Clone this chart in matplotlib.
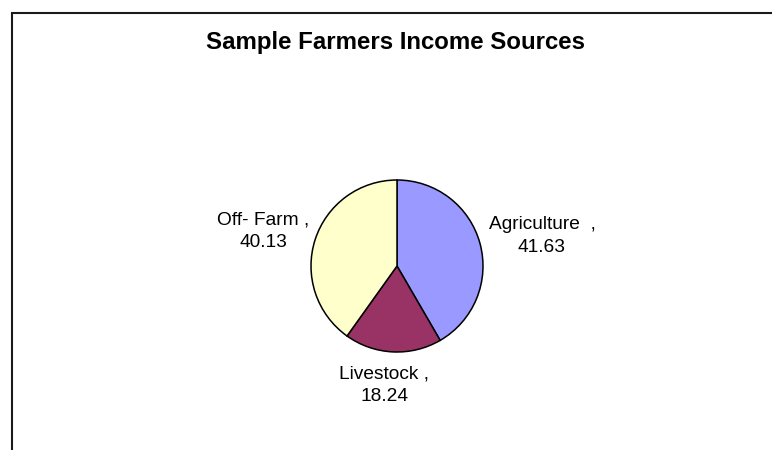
import matplotlib
matplotlib.use("Agg")
import matplotlib.pyplot as plt
from matplotlib.lines import Line2D

# Income shares (%) of the sampled farmers
sources = ["Agriculture ", "Livestock", "Off- Farm"]
shares = [41.63, 18.24, 40.13]
colors = ["#9999FF", "#993366", "#FFFFCC"]

# label anchor points (pixel layout, y measured from the top)
label_pos = [(542, 236), (384, 385), (263, 231)]

W, H = 772, 450
fig = plt.figure(figsize=(W / 100, H / 100), dpi=100)
ax = fig.add_axes([0, 0, 1, 1])

cx, cy, r = 397, H - 266, 86
ax.pie(shares, colors=colors, startangle=90, counterclock=False,
       center=(cx, cy), radius=r, frame=True,
       wedgeprops=dict(edgecolor="black", linewidth=1.1))
ax.set_xlim(0, W)
ax.set_ylim(0, H)
ax.set_aspect("equal")
ax.axis("off")

for name, val, (lx, ly) in zip(sources, shares, label_pos):
    ax.text(lx, H - ly, f"{name} ,\n{val:.2f}", ha="center", va="center",
            fontsize=13.8, family="Liberation Sans", linespacing=1.42,
            color="black")

ax.text(395, H - 42, "Sample Farmers Income Sources", ha="center", va="center",
        fontsize=17.3, fontweight="bold", family="Liberation Sans", color="black")

# chart area border (left and top edges)
px = lambda x: x / W
py = lambda y: 1 - y / H
fig.add_artist(Line2D([px(11.5), px(11.5)], [py(12), py(H + 5)],
                      transform=fig.transFigure, color="#1a1a1a", lw=1.5,
                      solid_capstyle="butt"))
fig.add_artist(Line2D([px(10.5), px(W + 5)], [py(12.5), py(12.5)],
                      transform=fig.transFigure, color="#1a1a1a", lw=1.5,
                      solid_capstyle="butt"))

fig.savefig("out.png", dpi=100, facecolor="white")
